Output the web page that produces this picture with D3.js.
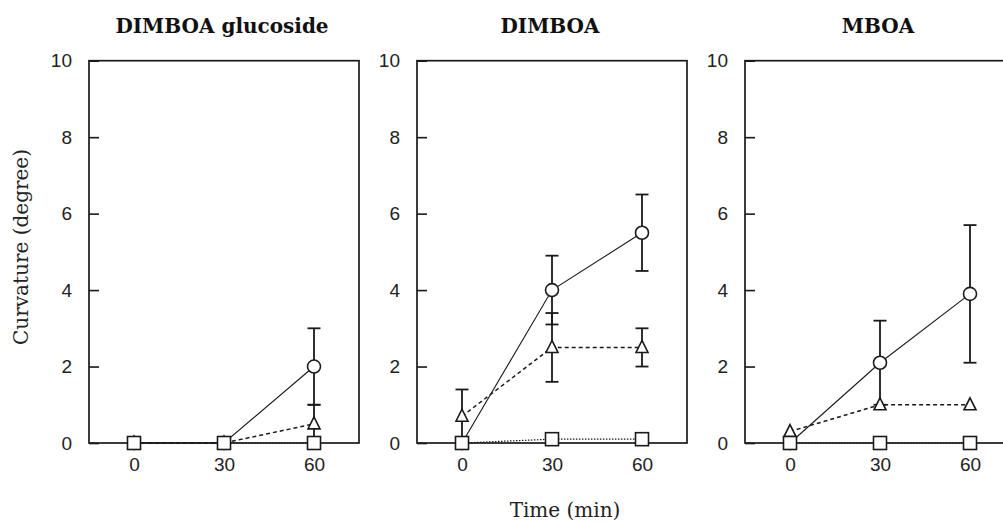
<!DOCTYPE html>
<html>
<head>
<meta charset="utf-8">
<script src="https://cdn.jsdelivr.net/npm/d3@7"></script>
<style>
  body { margin: 0; background: #fff; }
  .tick text { font-family: "Liberation Sans", Arial, sans-serif; font-size: 19px; fill: #222; }
</style>
</head>
<body>
<div id="chart"></div>
<script>
// ---- data ----
var panelTitles = ["DIMBOA glucoside", "DIMBOA", "MBOA"];
var times = [0, 30, 60];
var xTicks = [0, 30, 60];
var yTicks = [0, 2, 4, 6, 8, 10];

// circle series (mean, sd) per panel
var circleMean = [[0, 0, 2], [0, 4, 5.5], [0, 2.1, 3.9]];
var circleSd = [[0, 0, 1], [0, 0.9, 1], [0, 1.1, 1.8]];
// triangle series
var triangleMean = [[0, 0, 0.5], [0.7, 2.5, 2.5], [0.3, 1, 1]];
var triangleSd = [[0, 0, 0.5], [0.7, 0.9, 0.5], [0, 0, 0]];
// square series
var squareMean = [[0, 0, 0], [0, 0.1, 0.1], [0, 0, 0]];
var squareSd = [[0, 0, 0], [0, 0, 0], [0, 0, 0]];

var svg_width = 1003, svg_height = 522;
var svg = d3.select("#chart").append("svg")
    .attr("width", svg_width)
    .attr("height", svg_height);

var panelLeft = [89, 417, 745],
    panelWidth = 270,
    plotTop = 60.7, plotBottom = 443;

var y = d3.scaleLinear().domain([0, 10]).range([plotBottom, plotTop]);

var ink = "#1a1a1a";

panelTitles.forEach(function(title, p) {
    var x = d3.scaleLinear().domain([-15, 75]).range([panelLeft[p], panelLeft[p] + panelWidth]);
    var g = svg.append("g");

    var series = [
        {shape: "circle", mean: circleMean[p], sd: circleSd[p], dash: null, width: 1.1},
        {shape: "triangle", mean: triangleMean[p], sd: triangleSd[p], dash: "4,3", width: 1.5},
        {shape: "square", mean: squareMean[p], sd: squareSd[p], dash: "1.5,1.5", width: 1.2}
    ];

    // y axis (ticks pointing in)
    g.append("g")
        .attr("transform", "translate(" + panelLeft[p] + ",0)")
        .call(d3.axisLeft(y).tickValues(yTicks).tickSizeInner(-10).tickSizeOuter(0).tickPadding(17))
        .call(function(a) {
            a.select(".domain").remove();
            a.selectAll(".tick line").attr("stroke", ink).attr("stroke-width", 1.6);
        });

    // x axis (labels only)
    g.append("g")
        .attr("transform", "translate(0," + plotBottom + ")")
        .call(d3.axisBottom(x).tickValues(xTicks).tickSize(0).tickPadding(15))
        .call(function(a) { a.select(".domain").remove(); });

    // frame
    g.append("rect")
        .attr("x", panelLeft[p])
        .attr("y", plotTop)
        .attr("width", panelWidth)
        .attr("height", plotBottom - plotTop)
        .attr("fill", "none")
        .attr("stroke", ink)
        .attr("stroke-width", 1.7);

    // title
    g.append("text")
        .attr("x", x(30) - 2)
        .attr("y", 33)
        .attr("text-anchor", "middle")
        .attr("font-family", "DejaVu Serif, serif")
        .attr("font-weight", "bold")
        .attr("font-size", 20)
        .attr("fill", "#111")
        .text(title);

    var line = d3.line()
        .x(function(d, i) { return x(times[i]); })
        .y(function(d) { return y(d); });

    // connecting lines
    series.forEach(function(s) {
        g.append("path")
            .attr("d", line(s.mean))
            .attr("fill", "none")
            .attr("stroke", ink)
            .attr("stroke-width", s.width)
            .attr("stroke-dasharray", s.dash);
    });

    // error bars
    series.forEach(function(s) {
        s.mean.forEach(function(m, i) {
            if (!s.sd[i]) return;
            var cx = x(times[i]), hi = y(m + s.sd[i]), lo = y(m - s.sd[i]);
            g.append("line").attr("x1", cx).attr("x2", cx).attr("y1", hi).attr("y2", lo)
                .attr("stroke", ink).attr("stroke-width", 1.8);
            [hi, lo].forEach(function(yy) {
                g.append("line").attr("x1", cx - 6.5).attr("x2", cx + 6.5).attr("y1", yy).attr("y2", yy)
                    .attr("stroke", ink).attr("stroke-width", 1.8);
            });
        });
    });

    // markers
    series.forEach(function(s) {
        s.mean.forEach(function(m, i) {
            var cx = x(times[i]), cy = y(m);
            var mk;
            if (s.shape === "circle") {
                mk = g.append("circle").attr("cx", cx).attr("cy", cy).attr("r", 6.5);
            } else if (s.shape === "triangle") {
                mk = g.append("path").attr("d", "M" + cx + "," + (cy - 7) + "L" + (cx + 6) + "," + (cy + 5) + "L" + (cx - 6) + "," + (cy + 5) + "Z");
            } else {
                mk = g.append("rect").attr("x", cx - 6.5).attr("y", cy - 6.5).attr("width", 13).attr("height", 13);
            }
            mk.attr("fill", "#fff").attr("stroke", ink).attr("stroke-width", 1.6);
        });
    });
});

// axis titles
svg.append("text")
    .attr("transform", "translate(28,247) rotate(-90)")
    .attr("text-anchor", "middle")
    .attr("font-family", "DejaVu Serif, serif")
    .attr("font-size", 20)
    .attr("fill", "#222")
    .text("Curvature (degree)");

svg.append("text")
    .attr("x", 565)
    .attr("y", 517)
    .attr("text-anchor", "middle")
    .attr("font-family", "DejaVu Serif, serif")
    .attr("font-size", 20)
    .attr("fill", "#222")
    .text("Time (min)");
</script>
</body>
</html>
